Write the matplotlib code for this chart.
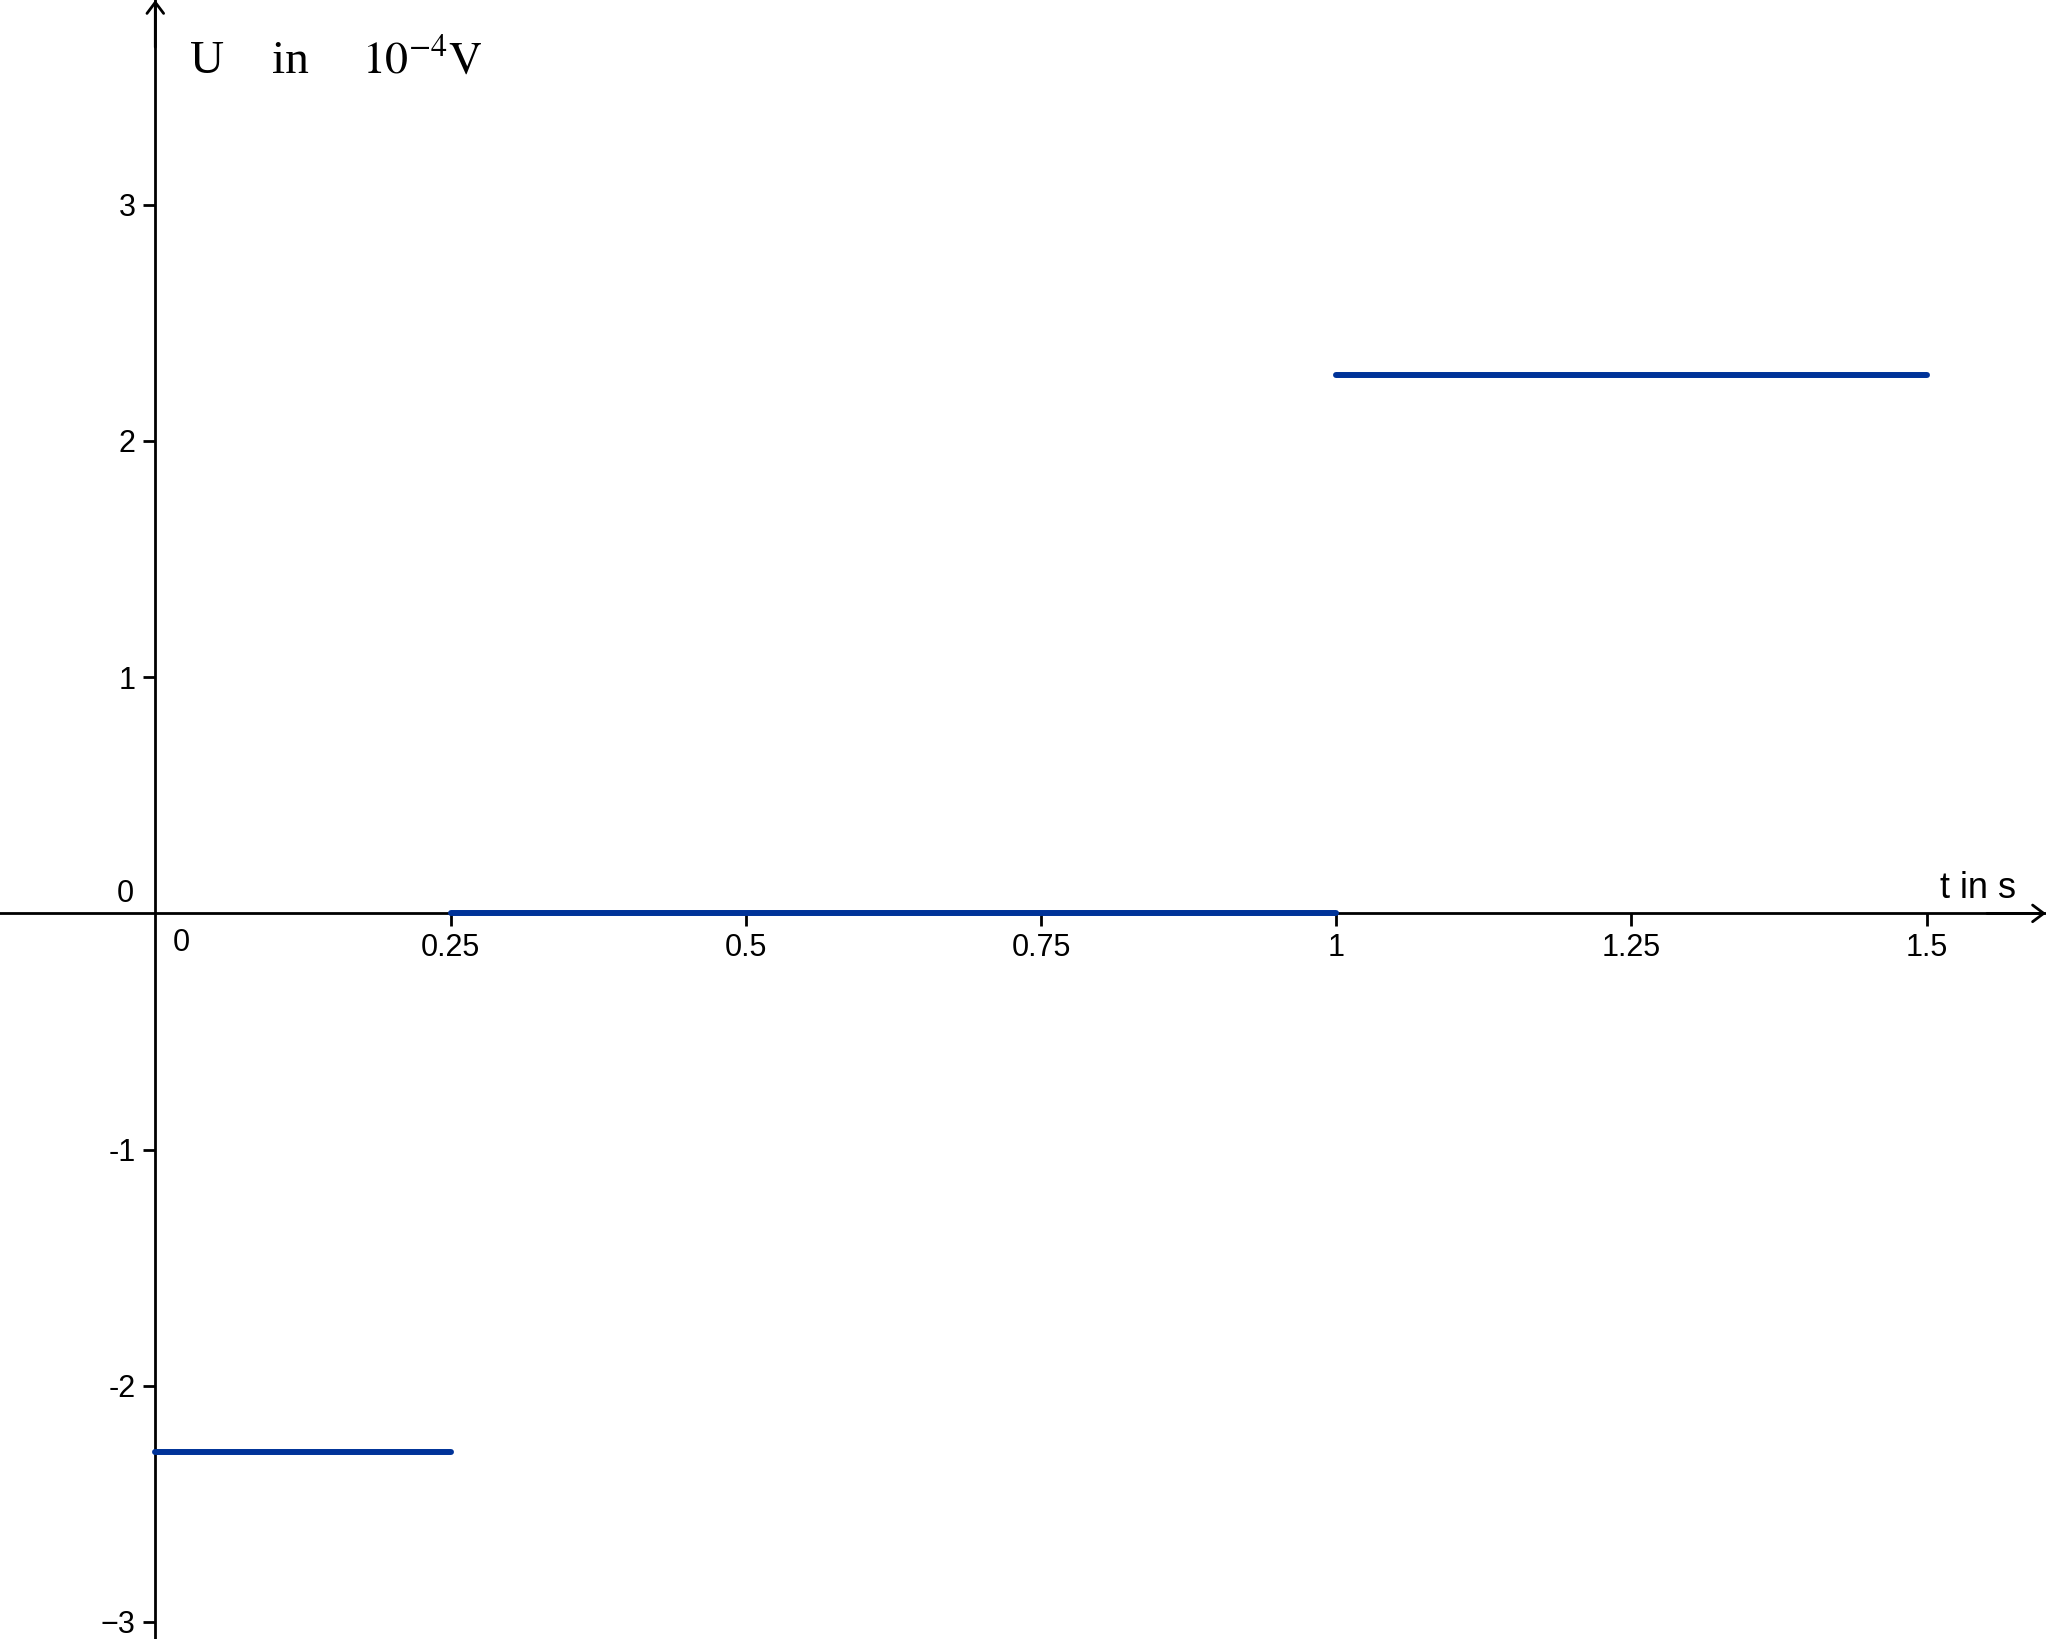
import matplotlib.pyplot as plt

# step voltage: segments (t_start, t_end, U)
t_start = [0.0, 0.25, 1.0]
t_end = [0.25, 1.0, 1.5]
u_vals = [-2.28, 0.0, 2.28]

x_ticks = [0.25, 0.5, 0.75, 1, 1.25, 1.5]
x_labels = ['0.25', '0.5', '0.75', '1', '1.25', '1.5']
y_ticks = [-3, -2, -1, 1, 2, 3]
y_labels = ['\u22123', '-2', '-1', '1', '2', '3']

plt.rcParams['mathtext.fontset'] = 'stix'


def main():
    fig = plt.figure(figsize=(20.46, 16.39), dpi=100)
    ax = fig.add_axes([0, 0, 1, 1])
    xmin, xmax = -0.1315, 1.601
    ymin, ymax = -3.072, 3.867
    ax.set_xlim(xmin, xmax)
    ax.set_ylim(ymin, ymax)

    for s in ['top', 'right']:
        ax.spines[s].set_visible(False)
    ax.spines['left'].set_position(('data', 0))
    ax.spines['bottom'].set_position(('data', 0))
    for s in ['left', 'bottom']:
        ax.spines[s].set_linewidth(2.0)

    ax.set_xticks(x_ticks)
    ax.set_xticklabels(x_labels)
    ax.set_yticks(y_ticks)
    ax.set_yticklabels(y_labels)
    ax.tick_params(direction='out', length=9, width=2.0, pad=5,
                   labelsize=22)
    for lab in ax.get_xticklabels() + ax.get_yticklabels():
        lab.set_family('Liberation Sans')

    # arrow heads
    ax.annotate('', xy=(xmax, 0), xytext=(xmax - 0.05, 0),
                arrowprops=dict(arrowstyle='->,head_length=0.4,head_width=0.3',
                                lw=2.0, color='black', mutation_scale=20,
                                shrinkA=0, shrinkB=0))
    ax.annotate('', xy=(0, ymax), xytext=(0, ymax - 0.2),
                arrowprops=dict(arrowstyle='->,head_length=0.4,head_width=0.3',
                                lw=2.0, color='black', mutation_scale=20,
                                shrinkA=0, shrinkB=0))

    # origin labels
    ax.text(0.0145, -0.06, '0', fontsize=22, family='Liberation Sans',
            ha='left', va='top')
    ax.text(-0.025, 0.02, '0', fontsize=22, family='Liberation Sans',
            ha='center', va='bottom')

    for a, b, u in zip(t_start, t_end, u_vals):
        ax.plot([a, b], [u, u], color='#003399', lw=4.3,
                solid_capstyle='round', zorder=3)

    # axis labels
    ax.text(0.0929, 0.9555, 'U', fontsize=34, family='Liberation Serif',
            transform=ax.transAxes, va='baseline')
    ax.text(0.1329, 0.9555, 'in', fontsize=34, family='Liberation Serif',
            transform=ax.transAxes, va='baseline')
    ax.text(0.1769, 0.9555, r'$\mathrm{10^{-4}V}$', fontsize=33,
            transform=ax.transAxes, va='baseline')
    ax.text(0.948, 0.452, 't in s', fontsize=26, family='Liberation Sans',
            transform=ax.transAxes, va='baseline')

    fig.savefig('out.png', dpi=100)
    plt.close(fig)


if __name__ == "__main__":
    main()
